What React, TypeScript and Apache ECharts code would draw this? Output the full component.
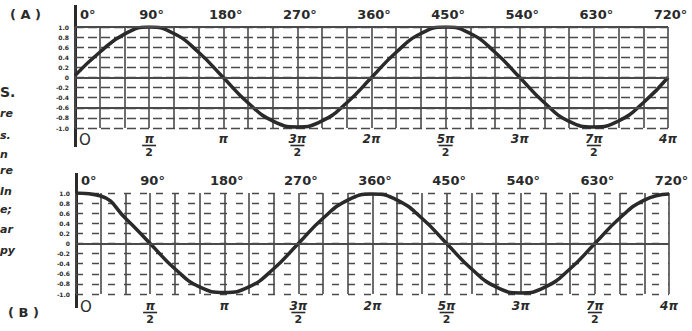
import React, { useEffect, useRef } from "react";
import * as echarts from "echarts";

const angles = [0, 30, 60, 90, 120, 150, 180, 210, 240, 270, 300, 330, 360, 390, 420, 450, 480, 510, 540, 570, 600, 630, 660, 690, 720];
const sineValues = [0.04, 0.5, 0.86, 1, 0.87, 0.5, 0, -0.5, -0.86, -0.98, -0.86, -0.5, 0, 0.5, 0.87, 1, 0.87, 0.5, 0, -0.5, -0.87, -0.98, -0.86, -0.5, 0];
const cosineValues = [1, 0.94, 0.5, 0, -0.5, -0.86, -0.97, -0.86, -0.5, 0, 0.5, 0.86, 0.98, 0.86, 0.5, 0, -0.5, -0.86, -0.98, -0.86, -0.5, 0, 0.5, 0.86, 0.98];
const degreeLabels = ["0°", "90°", "180°", "270°", "360°", "450°", "540°", "630°", "720°"];
const piLabels = ["O", "π/2", "π", "3π/2", "2π", "5π/2", "3π", "7π/2", "4π"];
const yLabels = ["-1.0", "-0.8", "-0.6", "-0.4", "-0.2", "0", "0.2", "0.4", "0.6", "0.8", "1.0"];
const captionFragments = ["S.", "re", "s.", "n", "re", "In", "e;", "ar", "py"];

const INK = "#2a2a2a";
const GRIDC = "#4a4a4a";
const FONT = "'DejaVu Sans', sans-serif";

function degFormatter(v: number) {
  if (Math.round(v) % 90 !== 0) return "";
  return degreeLabels[Math.round(v / 90)] ?? "";
}

function piFormatter(v: number) {
  if (Math.round(v) % 90 !== 0) return "";
  const s = piLabels[Math.round(v / 90)] ?? "";
  if (s === "O") return "{o|O}";
  if (s.includes("/")) {
    const [n, d] = s.split("/");
    return `{n|${n}}\n{b| }\n{d|${d}}`;
  }
  return `{n|${s}}`;
}

function yFormatter(v: number) {
  const i = Math.round((v + 1) / 0.2);
  return yLabels[i] ?? "";
}

const piRich = {
  o: { fontSize: 15, fontWeight: "normal", fontFamily: FONT, color: INK, lineHeight: 14, padding: [0, 0, 0, 4] },
  n: { fontSize: 12, fontWeight: "bold", fontStyle: "italic", fontFamily: FONT, color: INK, lineHeight: 11 },
  b: { fontSize: 1, width: 14, height: 1.6, lineHeight: 3, backgroundColor: INK },
  d: { fontSize: 11, fontWeight: "bold", fontFamily: FONT, color: INK, lineHeight: 10 },
};

function makeAxes(gridIndex: number, dashed: number[]) {
  const xAxes = [
    {
      type: "value", gridIndex, min: 0, max: 720, interval: 30, position: "bottom",
      axisLine: { show: false }, axisTick: { show: false },
      axisLabel: { show: true, formatter: piFormatter, rich: piRich, margin: gridIndex === 0 ? 5 : 6, alignMinLabel: "left", hideOverlap: false, showMinLabel: true, showMaxLabel: true },
      splitLine: { show: true, lineStyle: { color: GRIDC, width: 1.6, type: "solid" } },
    },
    {
      type: "value", gridIndex, min: 0, max: 720, interval: 30, position: "top",
      axisLine: { show: false }, axisTick: { show: false },
      axisLabel: { show: true, formatter: degFormatter, margin: 6, color: INK, fontSize: 13, fontWeight: "bold", fontFamily: FONT, alignMinLabel: "left", hideOverlap: false, showMinLabel: true, showMaxLabel: true, padding: [0, 0, 0, 5] },
      splitLine: { show: false },
    },
  ];
  const yAxis = {
    type: "value", gridIndex, min: -1, max: 1, interval: 0.2,
    axisLine: { show: false }, axisTick: { show: false },
    axisLabel: { show: true, formatter: yFormatter, fontSize: 6, fontWeight: "bold", color: INK, fontFamily: FONT, margin: 6 },
    splitLine: { show: true, lineStyle: { color: GRIDC, width: 1.4, type: dashed } },
  };
  return { xAxes, yAxis };
}

export default function App() {
  const ref = useRef<HTMLDivElement>(null);
  useEffect(() => {
    if (!ref.current) return;
    const chart = echarts.init(ref.current, null, { renderer: "svg" });
    const a = makeAxes(0, [9, 4]);
    const b = makeAxes(1, [7, 9]);
    const markStyle = { color: GRIDC, width: 2, type: "solid" };
    const option = {
      animation: false,
      backgroundColor: "#ffffff",
      grid: [
        { left: 75, top: 27, width: 593, height: 101 },
        { left: 76, top: 193, width: 593, height: 101 },
      ],
      xAxis: [...a.xAxes, ...b.xAxes],
      yAxis: [a.yAxis, b.yAxis],
      series: [
        {
          type: "line", xAxisIndex: 0, yAxisIndex: 0, smooth: true, showSymbol: false,
          data: angles.map((x, i) => [x, sineValues[i]]),
          lineStyle: { color: INK, width: 3.5 },
          markLine: { silent: true, symbol: ["none", "none"], label: { show: false }, lineStyle: markStyle, data: [{ yAxis: 0 }, { yAxis: -0.6 }, { yAxis: 1 }] },
        },
        {
          type: "line", xAxisIndex: 2, yAxisIndex: 1, smooth: true, showSymbol: false,
          data: angles.map((x, i) => [x, cosineValues[i]]),
          lineStyle: { color: INK, width: 3.5 },
          markLine: { silent: true, symbol: ["none", "none"], label: { show: false }, lineStyle: markStyle, data: [{ yAxis: 0 }] },
        },
      ],
      graphic: [
        { type: "line", shape: { x1: 75.5, y1: 5, x2: 75.5, y2: 147 }, style: { stroke: INK, lineWidth: 3 } },
        { type: "line", shape: { x1: 76.5, y1: 173, x2: 76.5, y2: 308 }, style: { stroke: INK, lineWidth: 3 } },
        { type: "text", left: 10, top: 8, style: { text: "( A )", fontSize: 13, fontWeight: "bold", fontFamily: FONT, fill: INK } },
        { type: "text", left: 8, top: 306, style: { text: "( B )", fontSize: 13, fontWeight: "bold", fontFamily: FONT, fill: INK } },
        ...captionFragments.map((t, i) => ({
          type: "text",
          x: 0,
          y: [92, 113, 135, 154, 170, 191, 209, 229, 250][i],
          style: {
            text: t,
            align: "left",
            verticalAlign: "middle",
            fontSize: i === 0 ? 14 : 11,
            fontWeight: "bold",
            fontStyle: i === 0 ? "normal" : "italic",
            fontFamily: FONT,
            fill: INK,
          },
        })),
      ],
    };
    chart.setOption(option as any);
    return () => chart.dispose();
  }, []);
  return <div ref={ref} style={{ position: "fixed", left: 0, top: 0, width: 692, height: 331, background: "#fff" }} />;
}
